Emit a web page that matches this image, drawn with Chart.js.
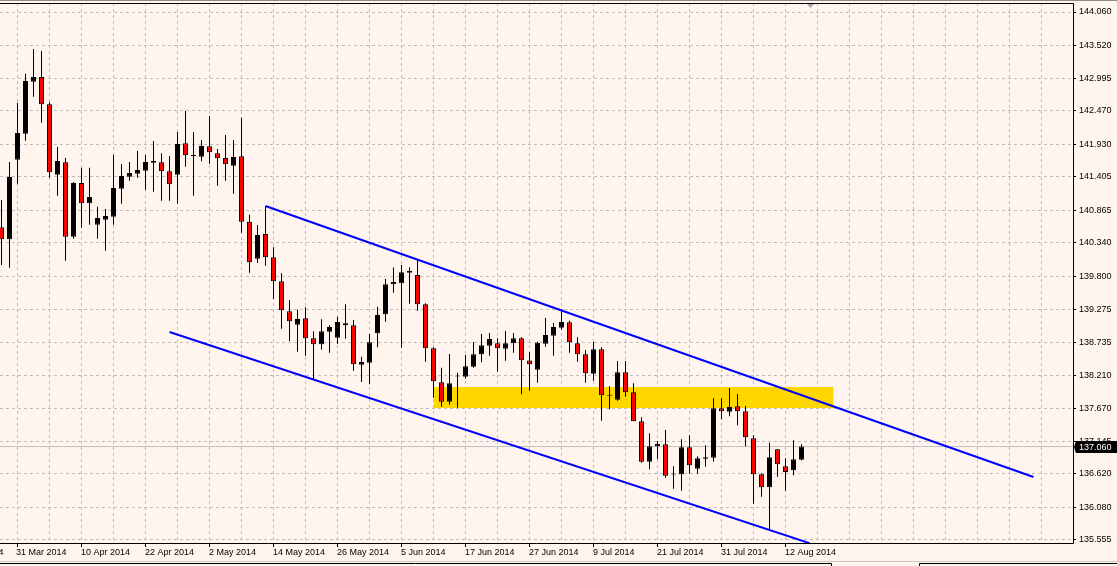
<!DOCTYPE html>
<html><head><meta charset="utf-8">
<style>
html,body{margin:0;padding:0;background:#FFF5EE;overflow:hidden}
canvas{display:block}
</style>
<script src="https://cdn.jsdelivr.net/npm/chart.js@4.4.0/dist/chart.umd.min.js"></script>
</head><body>
<canvas id="c" width="1117" height="566"></canvas>
<script>
// ---- data (daily candles, bar index 0 = 31 Mar 2014) ----
const firstBarIndex = -2;
const opens = [140.592,140.398,141.681,142.099,142.937,143.013,142.573,141.439,141.639,140.440,
141.305,140.978,140.634,140.714,140.762,141.213,141.407,141.455,141.503,141.632,
141.639,141.494,141.439,141.945,141.735,141.729,141.896,141.784,141.708,141.584,
141.735,140.682,140.086,140.484,140.108,139.722,139.239,139.023,139.126,138.804,
138.707,138.910,138.813,139.045,139.013,138.378,138.411,138.884,139.190,139.674,
139.690,139.860,139.823,139.351,138.643,138.095,137.782,138.190,138.185,138.346,
138.546,138.685,138.723,138.636,138.723,138.804,138.446,138.298,138.717,138.846,
138.974,139.061,138.723,138.546,138.233,138.627,137.879,137.815,138.256,137.934,
137.467,136.816,137.064,137.096,136.613,136.613,137.048,136.703,136.864,136.880,
137.676,137.621,137.708,137.628,137.193,136.613,136.404,137.016,136.742,136.677,
136.848];
const highs = [141.031,141.644,142.594,143.066,143.464,143.432,142.605,141.885,141.708,141.321,
141.552,141.552,140.924,140.886,141.761,141.611,141.644,141.821,141.756,141.982,
141.784,141.740,142.127,142.465,142.127,141.998,142.385,141.853,142.078,141.998,
142.357,140.795,140.629,140.935,140.270,139.851,139.421,139.264,139.303,138.916,
139.110,139.013,139.152,139.351,139.098,138.507,138.873,139.313,139.759,139.944,
139.984,139.947,140.081,139.367,138.659,138.330,138.551,138.250,138.535,138.744,
138.873,138.889,138.804,138.921,138.889,138.820,138.583,138.749,139.131,139.050,
139.271,139.087,138.820,138.615,138.744,138.659,138.031,138.438,138.438,138.079,
137.531,137.273,137.149,137.327,136.742,137.177,137.241,136.903,137.080,137.837,
137.837,138.003,137.906,137.713,137.241,136.629,137.122,137.020,136.871,137.161,
137.096];
const lows = [139.984,139.941,141.294,141.987,142.695,142.277,141.391,141.101,140.054,140.408,
140.585,140.634,140.408,140.215,140.634,140.972,141.342,141.391,141.197,141.165,
141.020,141.020,140.972,141.568,141.101,141.655,141.616,141.262,141.342,141.133,
140.505,139.860,140.017,139.973,139.437,138.958,138.760,138.588,138.523,138.132,
138.620,138.572,138.717,138.797,138.282,138.100,138.063,138.659,139.071,139.538,
138.652,139.361,139.248,138.427,137.847,137.702,137.734,137.686,138.153,138.330,
138.417,138.523,138.266,138.443,138.572,137.902,137.960,138.089,138.668,138.523,
138.942,138.572,138.427,138.089,138.121,137.476,137.660,137.799,137.863,137.467,
136.800,136.694,136.859,136.558,136.381,136.349,136.623,136.623,136.735,136.816,
137.499,137.547,137.402,137.064,136.139,136.252,135.705,136.574,136.349,136.597,
136.839];
const closes = [140.398,141.402,142.111,142.948,143.013,142.573,141.478,141.660,140.440,141.305,
140.978,141.080,140.742,140.774,141.225,141.418,141.466,141.515,141.644,141.660,
141.494,141.284,141.933,141.751,141.756,141.901,141.800,141.703,141.607,141.724,
140.682,140.028,140.468,140.108,139.722,139.255,139.078,139.115,138.804,138.707,
138.916,138.986,139.066,139.013,138.385,138.422,138.739,139.179,139.674,139.711,
139.867,139.888,139.351,138.643,138.111,137.782,138.079,138.197,138.353,138.546,
138.691,138.792,138.643,138.723,138.804,138.449,138.385,138.733,138.857,138.986,
139.066,138.739,138.546,138.240,138.627,137.886,137.882,138.256,137.934,137.467,
136.816,137.064,137.101,136.590,136.610,137.048,136.758,136.871,136.887,137.676,
137.628,137.697,137.628,137.209,136.613,136.404,136.887,136.774,136.650,136.855,
137.060];

const dateTickIndex = [-8,0,8,16,24,32,40,48,56,64,72,80,88,96];
const dateLabels = ["19 Mar 2014","31 Mar 2014","10 Apr 2014","22 Apr 2014","2 May 2014","14 May 2014",
  "26 May 2014","5 Jun 2014","17 Jun 2014","27 Jun 2014","9 Jul 2014","21 Jul 2014","31 Jul 2014","12 Aug 2014"];
const priceTicks = [144.060,143.520,142.995,142.470,141.930,141.405,140.865,140.340,139.800,
  139.275,138.735,138.210,137.670,137.145,136.620,136.080,135.555];
const priceTickLabels = ["144.060","143.520","142.995","142.470","141.930","141.405","140.865","140.340","139.800",
  "139.275","138.735","138.210","137.670","137.145","136.620","136.080","135.555"];
const lastPrice = 137.060;
const lastPriceLabel = "137.060";
const upperChannel = [{x:31,y:140.935},{x:127,y:136.570}];
const lowerChannel = [{x:19,y:138.905},{x:99,y:135.503}];
const zoneIdx = [52,102];
const zonePrice = [137.681,138.019];
const shiftMarkIdx = 99;

// ---- view ----
const Y_MIN = 135.506, Y_MAX = 144.205;
const X_MIN = -2.1875, X_MAX = 131.9375;
const FONT = {family:'Liberation Sans', size:9};

const idx = opens.map((_, i) => firstBarIndex + i);
const bodyData = idx.map((x, i) => ({x, y:[opens[i], closes[i]]}));
const wickData = idx.map((x, i) => ({x, y:[lows[i], highs[i]]}));
const bodyColors = idx.map((_, i) => closes[i] < opens[i] ? '#FF0000' : '#000000');

const decor = {
  id:'decor',
  beforeDraw(chart){
    const c = chart.ctx;
    c.save(); c.fillStyle = '#FFF5EE'; c.fillRect(0,0,chart.width,chart.height); c.restore();
  },
  afterDraw(chart){
    const c = chart.ctx, a = chart.chartArea, xs = chart.scales.x, ys = chart.scales.y;
    c.save();
    // frame
    c.strokeStyle = '#000'; c.lineWidth = 1;
    c.beginPath();
    c.moveTo(0, a.top + 0.5); c.lineTo(a.right + 0.5, a.top + 0.5);
    c.lineTo(a.right + 0.5, a.bottom + 0.5); c.lineTo(0, a.bottom + 0.5);
    c.stroke();
    // window top edge
    c.strokeStyle = '#8C8C8C'; c.beginPath(); c.moveTo(0,0.5); c.lineTo(chart.width,0.5); c.stroke();
    // bottom tab strip
    c.strokeStyle = '#C8C8C8'; c.beginPath(); c.moveTo(0,561.5); c.lineTo(chart.width,561.5); c.stroke();
    c.strokeStyle = '#000';
    c.beginPath();
    c.moveTo(0,563.5); c.lineTo(831.5,563.5); c.lineTo(831.5,566);
    c.moveTo(919.5,566); c.lineTo(919.5,563.5); c.lineTo(chart.width,563.5);
    c.stroke();
    // chart shift marker
    const sx = Math.round(xs.getPixelForValue(shiftMarkIdx)) + 0.5;
    c.fillStyle = '#A8A8A8';
    c.beginPath(); c.moveTo(sx-3.5, a.top+1); c.lineTo(sx+3.5, a.top+1); c.lineTo(sx, a.top+5); c.closePath(); c.fill();
    // date labels
    c.fillStyle = '#000';
    c.font = FONT.size + 'px "' + FONT.family + '"';
    c.textAlign = 'left'; c.textBaseline = 'middle';
    dateTickIndex.forEach((v, i) => {
      const px = Math.round(xs.getPixelForValue(v)) - 1;
      c.fillText(dateLabels[i], px, a.bottom + 10);
    });
    // last price box
    const py = Math.round(ys.getPixelForValue(lastPrice));
    c.fillStyle = '#000';
    c.beginPath();
    c.moveTo(a.right + 1, py);
    c.lineTo(a.right + 3, py - 6);
    c.lineTo(chart.width, py - 6);
    c.lineTo(chart.width, py + 6);
    c.lineTo(a.right + 3, py + 6);
    c.closePath(); c.fill();
    c.fillStyle = '#FFF';
    c.textBaseline = 'middle';
    c.fillText(lastPriceLabel, a.right + 6, py + 0.5);
    c.restore();
  }
};

new Chart(document.getElementById('c'), {
  type:'bar',
  data:{datasets:[
    {type:'line', label:'upper', data:upperChannel, borderColor:'#0000FF', borderWidth:2, pointRadius:0, fill:false, order:0},
    {type:'line', label:'lower', data:lowerChannel, borderColor:'#0000FF', borderWidth:2, pointRadius:0, fill:false, order:0},
    {label:'body', data:bodyData, backgroundColor:bodyColors, borderColor:'#000', borderWidth:1, borderSkipped:false,
      barThickness:5, minBarLength:1, inflateAmount:0, order:1},
    {label:'wick', data:wickData, backgroundColor:'#000', borderWidth:0, barThickness:1, inflateAmount:0, order:2},
    {type:'line', label:'zone', data:[{x:zoneIdx[0],y:zonePrice[1]},{x:zoneIdx[1],y:zonePrice[1]}],
      borderWidth:0, borderColor:'rgba(0,0,0,0)', pointRadius:0, backgroundColor:'#FFD700', fill:{value:zonePrice[0]}, order:3},
    {type:'line', label:'last', data:[{x:X_MIN,y:lastPrice},{x:X_MAX,y:lastPrice}],
      borderColor:'#C0C0C0', borderWidth:1, pointRadius:0, fill:false, order:4}
  ]},
  options:{
    responsive:false, animation:false, devicePixelRatio:1,
    grouped:false,
    layout:{padding:{top:3,left:0,right:0,bottom:0}},
    plugins:{legend:{display:false}, tooltip:{enabled:false}},
    scales:{
      x:{type:'linear', position:'bottom', min:X_MIN, max:X_MAX, offset:false,
        afterBuildTicks(s){ const t=[]; for(let v=0; v<=128; v+=4) t.push({value:v}); s.ticks=t; },
        afterFit(s){ s.height=23; s.paddingLeft=0; s.paddingRight=0; },
        grid:{offset:false, color:'#BEBEBE', lineWidth:1, drawTicks:true, tickLength:4, tickWidth:1,
          tickColor(ctx){ const v = ctx.tick ? ctx.tick.value : null; return (v!==null && dateTickIndex.includes(v)) ? '#000' : 'rgba(0,0,0,0)'; }},
        border:{display:false, dash:[3,3]},
        ticks:{display:true, color:'rgba(0,0,0,0)', autoSkip:false, maxRotation:0, font:FONT, callback:()=>''}
      },
      y:{type:'linear', position:'right', min:Y_MIN, max:Y_MAX,
        afterBuildTicks(s){ s.ticks = priceTicks.map(v=>({value:v})); },
        afterFit(s){ s.width=44; s.paddingTop=0; s.paddingBottom=0; },
        grid:{color:'#BEBEBE', lineWidth:1, drawTicks:true, tickLength:3, tickColor:'#000', tickWidth:1},
        border:{display:false, dash:[3,3]},
        ticks:{color:'#000', padding:3, font:FONT, autoSkip:false, callback:(v,i)=>priceTickLabels[i]}
      }
    }
  },
  plugins:[decor]
});
</script>
</body></html>
